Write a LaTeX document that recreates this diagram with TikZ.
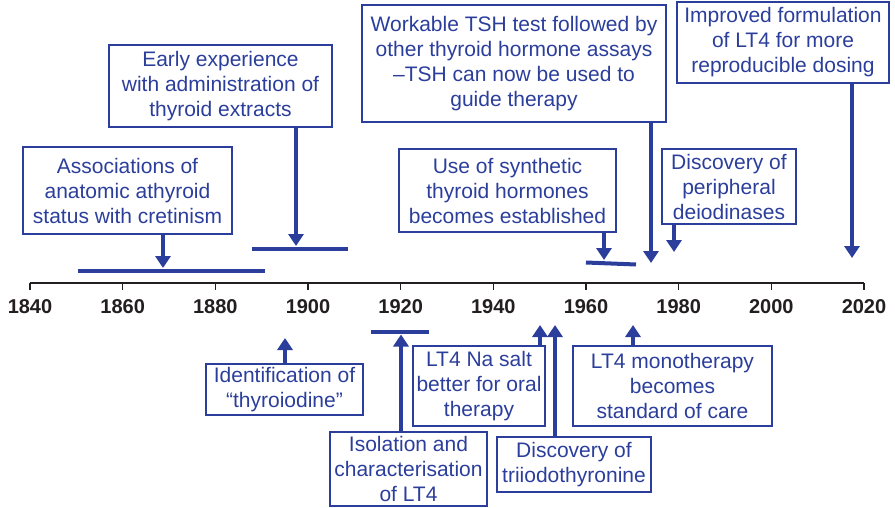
\documentclass[tikz,border=0pt]{standalone}
\usepackage{fontspec}
\setmainfont{Liberation Sans}
\usetikzlibrary{arrows.meta}
\definecolor{tblue}{RGB}{43,62,155}
\definecolor{tgray}{RGB}{35,31,32}
\tikzset{
  evbox/.style={draw=tblue, line width=1.2pt, text=tblue, align=center, inner sep=0pt,
    font=\fontsize{21}{25}\selectfont},
  arr/.style={draw=tblue, line width=4pt, -{Triangle[width=15pt,length=12pt]}},
  bar/.style={draw=tblue, line width=4pt},
  axisline/.style={draw=tgray, line width=1.5pt},
  tick/.style={draw=tgray, line width=1.3pt},
  year/.style={text=tgray, font=\fontsize{20}{24}\selectfont\bfseries, inner sep=0pt}
}
\begin{document}
\begin{tikzpicture}[x=1pt,y=-1pt]
\useasboundingbox (0,0) rectangle (895,508);
% axis
\coordinate (a0) at (30,283);
\coordinate (a1) at (864,283);
\draw[axisline] (a0) -- (a1);
\foreach \yr in {1840,1860,...,2020}{
  \pgfmathsetmacro{\xx}{30+(\yr-1840)*4.6333}
  \draw[tick] (\xx,283) -- (\xx,290);
  \node[year] (y\yr) at (\xx,307) {\yr};
}
% boxes above
\node[evbox, minimum width=209pt, minimum height=87pt] (assoc) at (127.5,190.5)
  {Associations of\\anatomic athyroid\\status with cretinism};
\node[evbox, minimum width=223pt, minimum height=82pt] (early) at (220.5,86)
  {Early experience\\with administration of\\thyroid extracts};
\node[evbox, minimum width=217pt, minimum height=83pt] (synth) at (507.5,190.5)
  {Use of synthetic\\thyroid hormones\\becomes established};
\node[evbox, minimum width=304pt, minimum height=117pt] (tsh) at (514,63.5)
  {Workable TSH test followed by\\other thyroid hormone assays\\–TSH can now be used to\\guide therapy};
\node[evbox, minimum width=134pt, minimum height=75pt] (deio) at (729,186.5)
  {Discovery of\\peripheral\\deiodinases};
\node[evbox, minimum width=212pt, minimum height=81pt] (impr) at (783,42.5)
  {Improved formulation\\of LT4 for more\\reproducible dosing};
% boxes below
\node[evbox, minimum width=157pt, minimum height=51pt] (ident) at (284.5,389.5)
  {Identification of\\“thyroiodine”};
\node[evbox, minimum width=157pt, minimum height=74pt] (isol) at (408.5,469)
  {Isolation and\\characterisation\\of LT4};
\node[evbox, minimum width=132pt, minimum height=80pt] (na) at (479,386)
  {LT4 Na salt\\better for oral\\therapy};
\node[evbox, minimum width=154pt, minimum height=55pt] (tri) at (574,464.5)
  {Discovery of\\triiodothyronine};
\node[evbox, minimum width=199pt, minimum height=80pt] (mono) at (672.5,386)
  {LT4 monotherapy\\becomes\\standard of care};
% bars
\draw[bar] (78,271) -- (265,271);
\draw[bar] (252,249) -- (348,249);
\draw[bar] (586,262.5) -- (636,264.5);
\draw[bar] (371,332) -- (429,332);
% arrow tips
\coordinate (t1) at (163,268);
\coordinate (t2) at (296,246);
\coordinate (t3) at (604,260);
\coordinate (t4) at (651,263);
\coordinate (t5) at (674,252);
\coordinate (t6) at (852,258);
\coordinate (b1) at (285,338);
\coordinate (b2) at (401,334.5);
\coordinate (b3) at (540,325);
\coordinate (b4) at (555,325);
\coordinate (b5) at (633,325);
% arrows
\draw[arr] (assoc.south -| t1) -- (t1);
\draw[arr] (early.south -| t2) -- (t2);
\draw[arr] (synth.south -| t3) -- (t3);
\draw[arr] (tsh.south -| t4) -- (t4);
\draw[arr] (deio.south -| t5) -- (t5);
\draw[arr] (impr.south -| t6) -- (t6);
\draw[arr] (ident.north -| b1) -- (b1);
\draw[arr] (isol.north -| b2) -- (b2);
\draw[arr] (na.north -| b3) -- (b3);
\draw[arr] (tri.north -| b4) -- (b4);
\draw[arr] (mono.north -| b5) -- (b5);
\end{tikzpicture}
\end{document}
